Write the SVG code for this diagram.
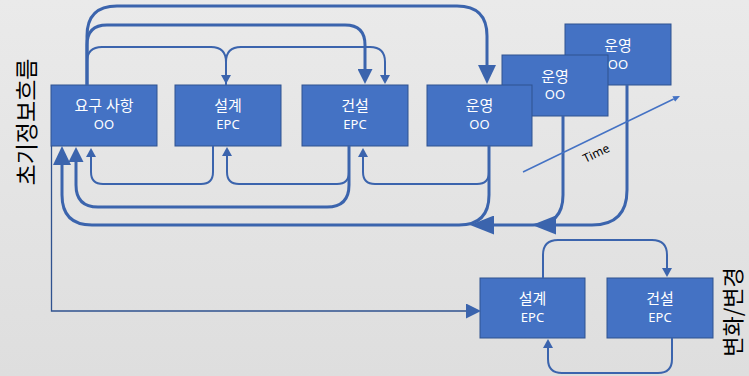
<svg xmlns="http://www.w3.org/2000/svg" width="749" height="376" viewBox="0 0 749 376">
<defs>
<linearGradient id="bg" x1="0" y1="0" x2="0" y2="1">
<stop offset="0" stop-color="#EAEAEA"/>
<stop offset="1" stop-color="#DEDEDE"/>
</linearGradient>
<marker id="aS" markerUnits="userSpaceOnUse" markerWidth="9" markerHeight="10" viewBox="0 0 9 10" refX="0" refY="5" orient="auto"><path d="M0,0 L9,5 L0,10 z" fill="#3B64AD"/></marker>
<marker id="aM" markerUnits="userSpaceOnUse" markerWidth="15" markerHeight="15" viewBox="0 0 15 15" refX="0" refY="7.5" orient="auto"><path d="M0,0 L15,7.5 L0,15 z" fill="#3B64AD"/></marker>
<marker id="aL" markerUnits="userSpaceOnUse" markerWidth="19" markerHeight="18" viewBox="0 0 19 18" refX="0" refY="9" orient="auto"><path d="M0,0 L19,9 L0,18 z" fill="#3B64AD"/></marker>
<marker id="aXL" markerUnits="userSpaceOnUse" markerWidth="24" markerHeight="19" viewBox="0 0 24 19" refX="0" refY="9.5" orient="auto"><path d="M0,0 L24,9.5 L0,19 z" fill="#3B64AD"/></marker>
<marker id="aT" markerUnits="userSpaceOnUse" markerWidth="7" markerHeight="6" viewBox="0 0 7 6" refX="0" refY="3" orient="auto"><path d="M0,0 L7,3 L0,6 z" fill="#4472C4"/></marker>
</defs>
<style>
.box{fill:#4472C4;stroke:#2F528F;stroke-width:1}
.t1{fill:#fff;font-family:"Noto Sans","Noto Sans CJK KR",sans-serif;font-size:15px;text-anchor:middle}
.t2{fill:#fff;font-family:"Noto Sans","Noto Sans CJK KR",sans-serif;font-size:13px;text-anchor:middle}
.c{fill:none;stroke:#3B64AD;stroke-linejoin:round}
.w3{stroke-width:3}
.w2{stroke-width:2}
.side{font-family:"Noto Sans CJK KR",sans-serif;fill:#000;text-anchor:middle}
</style>
<rect width="749" height="376" fill="url(#bg)"/>

<g id="label-initial">
<text class="side" font-size="23" transform="translate(35,122) rotate(-90)">초기정보흐름</text>
</g>
<g id="label-change">
<text class="side" font-size="22" transform="translate(741,312) rotate(-90)">변화/변경</text>
</g>

<g id="op-back">
<rect class="box" x="565" y="24" width="106" height="61"/>
<text class="t1" x="618" y="51">운영</text>
<text class="t2" x="618" y="69">OO</text>
</g>
<g id="op-mid">
<rect class="box" x="502" y="55" width="106" height="61"/>
<text class="t1" x="555" y="82">운영</text>
<text class="t2" x="555" y="99">OO</text>
</g>
<g id="req">
<rect class="box" x="51" y="85" width="106" height="61"/>
<text class="t1" x="104" y="111">요구 사항</text>
<text class="t2" x="104" y="129">OO</text>
</g>
<g id="design">
<rect class="box" x="175" y="85" width="106" height="61"/>
<text class="t1" x="228" y="111">설계</text>
<text class="t2" x="228" y="129">EPC</text>
</g>
<g id="build">
<rect class="box" x="302" y="85" width="106" height="61"/>
<text class="t1" x="355" y="111">건설</text>
<text class="t2" x="355" y="129">EPC</text>
</g>
<g id="op-front">
<rect class="box" x="427" y="85" width="105" height="61"/>
<text class="t1" x="479.5" y="111">운영</text>
<text class="t2" x="479.5" y="129">OO</text>
</g>
<g id="design2">
<rect class="box" x="480" y="278" width="105" height="60"/>
<text class="t1" x="532.5" y="304">설계</text>
<text class="t2" x="532.5" y="322">EPC</text>
</g>
<g id="build2">
<rect class="box" x="607" y="278" width="106" height="60"/>
<text class="t1" x="660" y="304">건설</text>
<text class="t2" x="660" y="322">EPC</text>
</g>

<g id="connectors">
<path class="c w3" d="M87,85 V36 Q87,6 117,6 H457 Q487,6 487,36 V65" marker-end="url(#aL)"/>
<path class="c w3" d="M87,85 V45 Q87,25 107,25 H345 Q365,25 365,45 V69" marker-end="url(#aM)"/>
<path class="c w2" d="M87,85 V62 Q87,47 102,47 H211 Q226,47 226,62 V75" marker-end="url(#aS)"/>
<path class="c w2" d="M226,85 V62 Q226,47 241,47 H370 Q385,47 385,62 V75" marker-end="url(#aS)"/>
<path class="c w2" d="M213,146 V172 Q213,184 201,184 H103 Q91,184 91,172 V157" marker-end="url(#aS)"/>
<path class="c w2" d="M349,146 V172 Q349,184 337,184 H239 Q227,184 227,172 V156" marker-end="url(#aS)"/>
<path class="c w3" d="M349,146 V185 Q349,207 327,207 H98 Q76,207 76,185 V162" marker-end="url(#aM)"/>
<path class="c w2" d="M489,146 V172 Q489,184 477,184 H375 Q363,184 363,172 V157" marker-end="url(#aS)"/>
<path class="c w3" d="M489,146 V195 Q489,225 459,225 H92 Q62,225 62,195 V165" marker-end="url(#aL)"/>
<path class="c w3" d="M563,116 V195 Q563,225 533,225 H494" marker-end="url(#aXL)"/>
<path class="c w3" d="M627,85 V190 Q627,225 592,225 H556" marker-end="url(#aXL)"/>
<path fill="none" stroke="#2F528F" stroke-width="1.3" d="M51.5,146 V311 H466" marker-end="url(#aM)"/>
<path class="c w2" d="M543,278 V255 Q543,240 558,240 H652 Q667,240 667,255 V268" marker-end="url(#aS)"/>
<path class="c w2" d="M672,338 V359 Q672,373 658,373 H562 Q548,373 548,359 V348" marker-end="url(#aS)"/>
<path fill="none" stroke="#4472C4" stroke-width="1.5" d="M523,172 L673.7,99.05" marker-end="url(#aT)"/>
</g>
<g id="time-label">
<text font-family="'Noto Sans',sans-serif" font-size="12" fill="#000" text-anchor="middle" transform="translate(598,157) rotate(-26)">Time</text>
</g>
</svg>
